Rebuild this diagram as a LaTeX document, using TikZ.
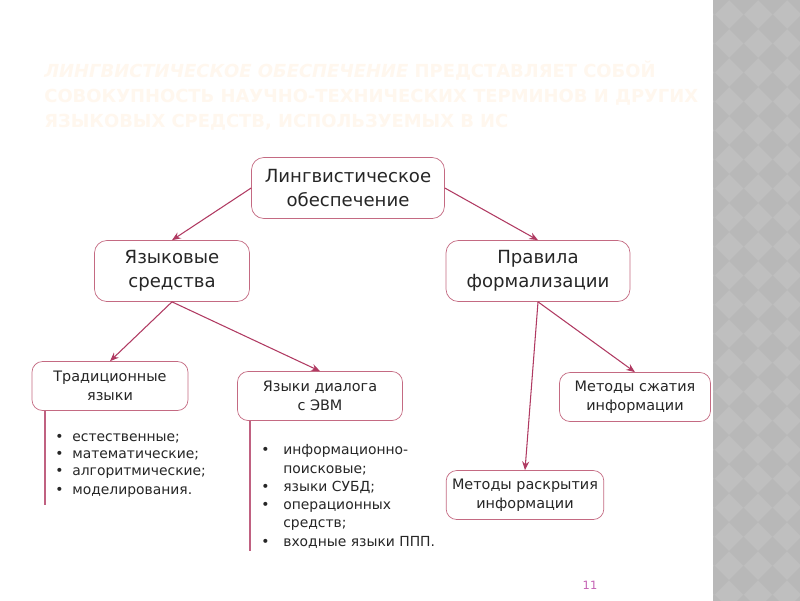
\documentclass[tikz,border=0pt]{standalone}
\usepackage{fontspec}
\setmainfont{DejaVu Sans}
\usetikzlibrary{arrows.meta}
\definecolor{boxrim}{HTML}{C46A82}
\definecolor{linkred}{HTML}{B03A62}
\definecolor{titlecream}{HTML}{FFF7EE}
\definecolor{stripegray}{HTML}{BFBFBF}
\definecolor{stripedark}{HTML}{B8B8B8}
\definecolor{pagenum}{HTML}{C462B4}
\tikzset{
  bigbox/.style={draw=boxrim, fill=white, rounded corners=7pt, align=center,
    minimum height=1.22cm, font=\fontsize{10.3}{13.7}\selectfont, text=black!85},
  smallbox/.style={draw=boxrim, fill=white, rounded corners=6pt, align=center,
    minimum height=0.98cm, font=\fontsize{8.2}{10.8}\selectfont, text=black!85},
  link/.style={draw=linkred, line width=0.6pt, -{Stealth[length=5pt,width=4pt]}},
  stem/.style={draw=linkred!80, line width=0.6pt},
  item/.style={anchor=base west, inner sep=0pt,
    font=\fontsize{7.9}{10.2}\selectfont, text=black!85}
}
\begin{document}
\begin{tikzpicture}[x=0.02cm, y=-0.02cm]
    \useasboundingbox (0,0) rectangle (800,600);
    \fill[white] (-5,-5) rectangle (805,605);
    % grey stripe on the right, checkered diamonds
    \fill[stripegray] (713,-5) rectangle (805,605);
    \begin{scope}
        \clip (713,-5) rectangle (805,605);
        \foreach \i in {0,...,4} {
            \foreach \j in {0,...,21} {
                \fill[stripedark] (700+29*\i, 29*\j) -- ++(14.5,-14.5) -- ++(14.5,14.5)
                    -- ++(-14.5,14.5) -- cycle;
            }
        };
    \end{scope}
    % title
    \node[anchor=north west, align=left, inner sep=0pt, text=titlecream,
          font=\fontsize{10.2}{14}\selectfont\bfseries] (title) at (44,61)
        {{\itshape ЛИНГВИСТИЧЕСКОЕ ОБЕСПЕЧЕНИЕ} ПРЕДСТАВЛЯЕТ СОБОЙ\\
         СОВОКУПНОСТЬ НАУЧНО-ТЕХНИЧЕСКИХ ТЕРМИНОВ И ДРУГИХ\\
         ЯЗЫКОВЫХ СРЕДСТВ, ИСПОЛЬЗУЕМЫХ В ИС};
    % boxes
    \node[bigbox, minimum width=3.86cm] (root) at (348,188) {Лингвистическое\\обеспечение};
    \node[bigbox, minimum width=3.1cm] (yaz) at (172,271) {Языковые\\средства};
    \node[bigbox, minimum width=3.68cm] (prav) at (538,271) {Правила\\формализации};
    \node[smallbox, minimum width=3.12cm] (trad) at (110,386) {Традиционные\\языки};
    \node[smallbox, minimum width=3.3cm] (dial) at (320,396) {Языки диалога\\с ЭВМ};
    \node[smallbox, minimum width=3.02cm] (szh) at (635,397) {Методы сжатия\\информации};
    \node[smallbox, minimum width=3.14cm] (rask) at (525,495) {Методы раскрытия\\информации};
    % arrows
    \draw[link] (root.west) -- (yaz.north);
    \draw[link] (root.east) -- (prav.north);
    \draw[link] (yaz.south) -- (trad.north);
    \draw[link] (yaz.south) -- (dial.north);
    \draw[link] (prav.south) -- (rask.north);
    \draw[link] (prav.south) -- (szh.north);
    % stems under the small boxes
    \coordinate (v1) at (45,505);
    \coordinate (v2) at (250,551);
    \draw[stem] (trad.south -| v1) -- (v1);
    \draw[stem] (dial.south -| v2) -- (v2);
    % bullet lists
    \foreach \y/\t [count=\i] in {441/естественные;, 458/математические;,
                                   475/алгоритмические;, 494/моделирования.} {
        \node[item] (a\i) at (72,\y) {\t};
        \node[item] (ab\i) at (55,\y) {•};
    };
    \foreach \y/\t [count=\i] in {454/информационно-, 473/поисковые;, 491/{языки СУБД;},
                                   509/операционных, 527/средств;, 546/{входные языки ППП.}} {
        \node[item] (b\i) at (283,\y) {\t};
    };
    \foreach \y [count=\i] in {454,491,509,546} {
        \node[item] (bb\i) at (261,\y) {•};
    };
    % page number
    \node[text=pagenum, font=\fontsize{6.5}{8}\selectfont] (num) at (590,585) {11};
\end{tikzpicture}
\end{document}
